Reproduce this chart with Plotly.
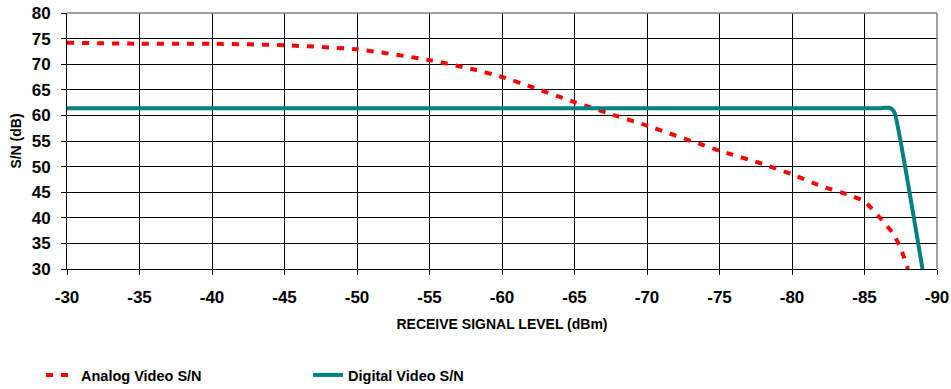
import plotly.graph_objects as go

analog_x = [-30, -35, -40, -45, -50, -55, -58, -60, -62, -65, -68, -70, -75, -78, -80, -82, -84, -85, -86, -87, -87.5, -88]
analog_y = [74.2, 74.0, 74.0, 73.7, 72.9, 70.8, 69.0, 67.5, 65.6, 62.6, 59.8, 58.0, 53.1, 50.5, 48.5, 46.2, 44.4, 43.2, 40.2, 36.8, 34.0, 30.0]

digital_x = [-30, -86.0, -86.4, -86.7, -86.9, -87.1, -89.0]
digital_y = [61.4, 61.4, 61.5, 61.5, 61.2, 60.3, 30.0]

x_ticks = [-30, -35, -40, -45, -50, -55, -60, -65, -70, -75, -80, -85, -90]
y_ticks = [30, 35, 40, 45, 50, 55, 60, 65, 70, 75, 80]

FONT = "Liberation Sans, Arial, sans-serif"

fig = go.Figure()
fig.add_trace(go.Scatter(
    x=analog_x, y=analog_y, mode="lines", name="<b>Analog Video S/N</b>",
    line=dict(color="#FF0000", width=4, dash="7px,8px", shape="spline", smoothing=0.6),
    legend="legend",
))
fig.add_trace(go.Scatter(
    x=digital_x, y=digital_y, mode="lines", name="<b>Digital Video S/N</b>",
    line=dict(color="#008080", width=4, shape="spline", smoothing=0.5),
    legend="legend2",
))

legend_common = dict(
    orientation="h", yanchor="middle", xanchor="left",
    xref="container", yref="container", y=0.036,
    font=dict(family=FONT, size=14.5, color="black"),
    bgcolor="rgba(0,0,0,0)",
)

fig.update_layout(
    width=951, height=389,
    margin=dict(l=67, r=14, t=13, b=120),
    paper_bgcolor="white", plot_bgcolor="white",
    font=dict(family=FONT, color="black"),
    showlegend=True,
    legend=dict(x=0.0431, **legend_common),
    legend2=dict(x=0.3239, **legend_common),
    xaxis=dict(
        range=[-30, -90], tickvals=x_ticks, ticktext=[f"<b>{v}</b>" for v in x_ticks],
        tickfont=dict(size=17, family=FONT), showgrid=True, gridcolor="black", gridwidth=1,
        showline=True, linecolor="black", linewidth=1, automargin=False,
        ticks="outside", ticklen=5, tickcolor="black", zeroline=False, ticklabelstandoff=8,
        title=dict(text="<b>RECEIVE SIGNAL LEVEL (dBm)</b>", font=dict(size=14, family=FONT), standoff=12),
    ),
    yaxis=dict(
        range=[30, 80], tickvals=y_ticks, ticktext=[f"<b>{v}</b>" for v in y_ticks],
        tickfont=dict(size=17, family=FONT), showgrid=True, gridcolor="black", gridwidth=1,
        showline=True, linecolor="black", linewidth=1, automargin=False,
        ticks="outside", ticklen=5, tickcolor="black", zeroline=False, ticklabelstandoff=7,
        title=dict(text="<b>S/N (dB)</b>", font=dict(size=14, family=FONT), standoff=6),
    ),
    shapes=[
        dict(type="line", xref="paper", yref="paper", x0=0, x1=1, y0=1, y1=1,
             line=dict(color="#808080", width=1.5)),
        dict(type="line", xref="paper", yref="paper", x0=1, x1=1, y0=0, y1=1,
             line=dict(color="#808080", width=1.5)),
    ],
)

fig.write_html("out.html", config={"displayModeBar": False},
               post_script="document.body.style.margin='0';")
